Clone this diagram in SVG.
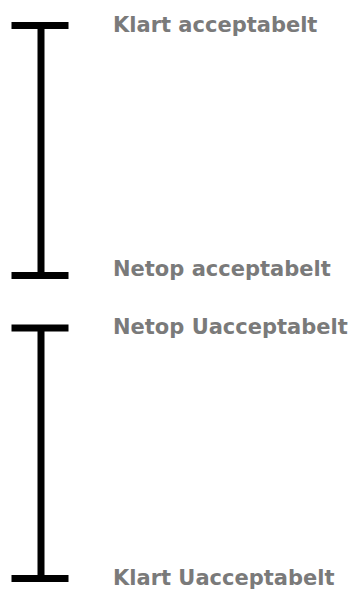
<svg xmlns="http://www.w3.org/2000/svg" width="354" height="590" viewBox="0 0 354 590">
<style>
.bar{stroke:#000;stroke-width:7;fill:none}
.lbl{font-family:"DejaVu Sans",Verdana,sans-serif;font-weight:bold;font-size:21px;fill:#7a7a7a}
</style>
<rect width="354" height="590" fill="#fff"/>
<g id="range-acceptable">
<path class="bar" d="M11.5 25.5H68.5M41 25.5V275.5M11.5 275.5H68.5"/>
</g>
<g id="range-unacceptable">
<path class="bar" d="M11.5 328H68.5M41 328V578.5M11.5 578.5H68.5"/>
</g>
<g id="labels">
<text class="lbl" x="113" y="31.5">Klart acceptabelt</text>
<text class="lbl" x="113" y="276">Netop acceptabelt</text>
<text class="lbl" x="113" y="333.5">Netop Uacceptabelt</text>
<text class="lbl" x="113" y="585">Klart Uacceptabelt</text>
</g>
</svg>
